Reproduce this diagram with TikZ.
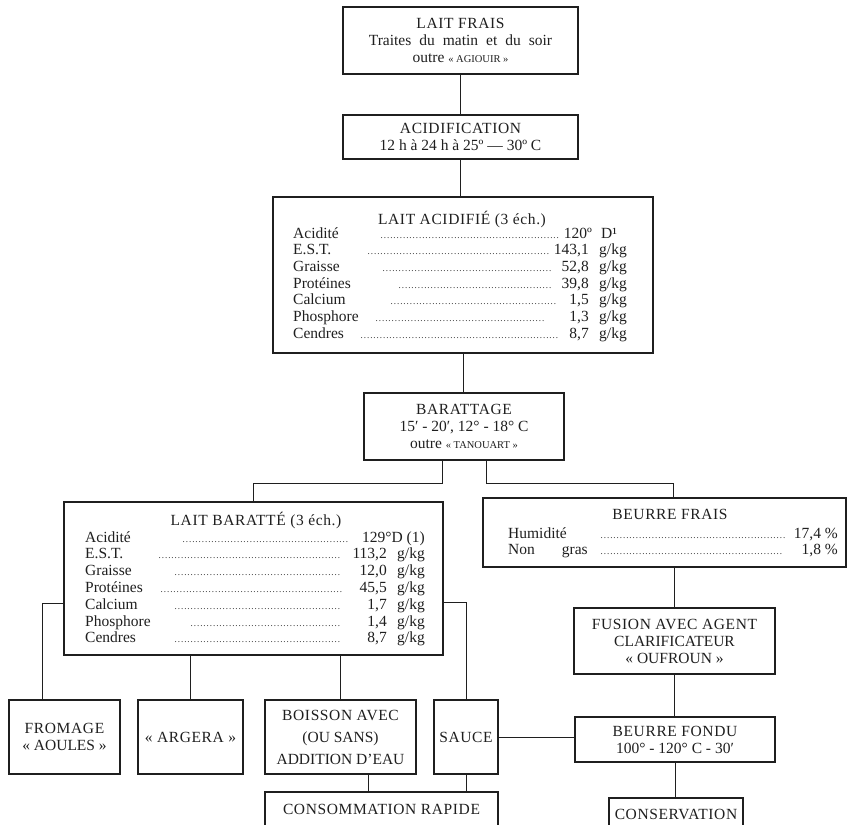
\documentclass[tikz,border=0pt]{standalone}
\usepackage{fontspec}
\setmainfont{Liberation Serif}
\newfontfamily\lsfont[LetterSpace=4]{Liberation Serif}
\usetikzlibrary{calc}
\definecolor{ink}{gray}{0.12}
\newcommand\fs{\fontsize{15.5}{17}\selectfont}
\newcommand\sm[1]{{\fontsize{10.5}{12}\selectfont #1}}
\newcommand\dl[2]{\hbox to \dimexpr #2pt-#1pt\relax{\fontsize{9}{9}\selectfont\leaders\hbox to 3.2pt{\hss.\hss}\hfill}}
\newcommand\bx[6]{\node[bxs, minimum width={#4-#2}, minimum height={#5-#3}] (#1) at ({(#2+#4)/2},{(#3+#5)/2}) {#6};}
\tikzset{
  bxs/.style={draw=ink, line width=1.1pt, inner sep=0pt, align=center, font=\fs, text=ink},
  conn/.style={draw=ink, line width=0.8pt},
  txt/.style={inner sep=0pt, font=\fs, text=ink, anchor=base west},
  txtr/.style={txt, anchor=base east},
  ttl/.style={inner sep=0pt, font={\fs\lsfont}, text=ink, anchor=base},
}
\begin{document}
\begin{tikzpicture}[x=1pt,y=-1pt]
\useasboundingbox (0,0) rectangle (853,824);
\fill[white] (0,0) rectangle (853,824);

% boxes
\bx{lf}{343}{7}{578}{74}{{\lsfont LAIT FRAIS}\\{\spaceskip=8pt Traites du matin et du soir}\\outre \sm{« AGIOUIR »}}
\bx{ac}{343}{115}{578}{159}{{\lsfont ACIDIFICATION}\\12 h à 24 h à 25º — 30º C}
\bx{la}{273}{197}{653}{353}{}
\bx{ba}{364}{393}{564}{460}{{\lsfont BARATTAGE}\\15′ - 20′, 12° - 18° C\\outre \sm{« TANOUART »}}
\bx{lb}{64}{502}{443}{655}{}
\bx{bf}{483}{498}{846}{567}{}
\bx{fu}{574}{608}{775}{674}{\lsfont FUSION AVEC AGENT\\CLARIFICATEUR\\« OUFROUN »}
\bx{bfo}{575}{717}{775}{762}{{\lsfont BEURRE FONDU}\\100° - 120° C - 30′}
\bx{co}{609}{798}{743}{830}{\lsfont CONSERVATION}
\bx{fr}{9}{700}{120}{774}{\lsfont FROMAGE\\« AOULES »}
\bx{ar}{138}{700}{243}{774}{\lsfont « ARGERA »}
\bx{bo}{265}{700}{416}{774}{\lsfont BOISSON AVEC\\[5pt](OU SANS)\\[5pt]ADDITION D'EAU}
\bx{sa}{434}{700}{498}{774}{\lsfont SAUCE}
\bx{cr}{265}{792}{498}{827}{\lsfont CONSOMMATION RAPIDE}

% LAIT ACIDIFIE table
\node[ttl] (la-t) at (462,224) {LAIT ACIDIFIÉ (3 éch.)};
\foreach \i/\lab/\da/\db in {0/Acidité/380/560, 1/E.S.T./367/550, 2/Graisse/382/553, 3/Protéines/398/553, 4/Calcium/390/559, 5/Phosphore/375/545, 6/Cendres/360/560}{
  \node[txt] (la-l\i) at (293,{238+16.7*\i}) {\lab};
  \node[txt] (la-d\i) at (\da,{238+16.7*\i}) {\dl{\da}{\db}};
}
\foreach \i/\num in {1/{143,1},2/{52,8},3/{39,8},4/{1,5},5/{1,3},6/{8,7}}{
  \node[txtr] (la-n\i) at (589,{238+16.7*\i}) {\num};
  \node[txt] (la-u\i) at (599,{238+16.7*\i}) {g/kg};
}
\node[txtr] (la-n0) at (592,238) {120º};
\node[txt] (la-u0) at (601,238) {D¹};

% LAIT BARATTE table
\node[ttl] (lb-t) at (256,525) {LAIT BARATTÉ (3 éch.)};
\foreach \i/\lab/\da/\db in {0/Acidité/182/350, 1/E.S.T./158/343, 2/Graisse/174/343, 3/Protéines/160/343, 4/Calcium/174/343, 5/Phosphore/190/343, 6/Cendres/174/343}{
  \node[txt] (lb-l\i) at (85,{542+16.8*\i}) {\lab};
  \node[txt] (lb-d\i) at (\da,{542+16.8*\i}) {\dl{\da}{\db}};
}
\foreach \i/\num in {1/{113,2},2/{12,0},3/{45,5},4/{1,7},5/{1,4},6/{8,7}}{
  \node[txtr] (lb-n\i) at (387,{542+16.8*\i}) {\num};
  \node[txt] (lb-u\i) at (397,{542+16.8*\i}) {g/kg};
}
\node[txt] (lb-n0) at (362,542) {129°D (1)};

% BEURRE FRAIS table
\node[ttl] (bf-t) at (670,519) {BEURRE FRAIS};
\node[txt] (bf-l0) at (508,538) {Humidité};
\node[txt] (bf-l1) at (508,554) {Non\hskip 27pt gras};
\node[txt] (bf-d0) at (600,538) {\dl{600}{787}};
\node[txt] (bf-d1) at (600,554) {\dl{600}{785}};
\node[txtr] (bf-n0) at (838,538) {17,4 \%};
\node[txtr] (bf-n1) at (838,554) {1,8 \%};

% connectors
\coordinate (j1) at (442,483);
\coordinate (j2) at (486,483);
\coordinate (j3) at (42,603);
\coordinate (j4) at (466,602);
\coordinate (j5) at (368,783);
\coordinate (j6) at (673,483);
\draw[conn] (lf) -- (ac);
\draw[conn] (ac.south) -- (ac.south |- la.north);
\draw[conn] (la.south) -- (la.south |- ba.north);
\draw[conn] (ba.south -| j1) -- (j1) -| (lb.north);
\draw[conn] (ba.south -| j2) -- (j2) -- (j6) -- (bf.north -| j6);
\draw[conn] (lb.west |- j3) -- (j3) -- (fr.north -| j3);
\draw[conn] (lb.south -| ar.north) -- (ar.north);
\draw[conn] (lb.south -| bo.north) -- (bo.north);
\draw[conn] (lb.east |- j4) -- (j4) -- (sa.north);
\draw[conn] (bo.south -| j5) -- (cr.north -| j5);
\draw[conn] (sa.south) -- (sa.south |- cr.north);
\draw[conn] (sa.east) -- (sa.east -| bfo.west);
\draw[conn] (bf.south -| fu.north) -- (fu.north);
\draw[conn] (fu.south) -- (fu.south |- bfo.north);
\draw[conn] (bfo.south) -- (bfo.south |- co.north);
\end{tikzpicture}
\end{document}
